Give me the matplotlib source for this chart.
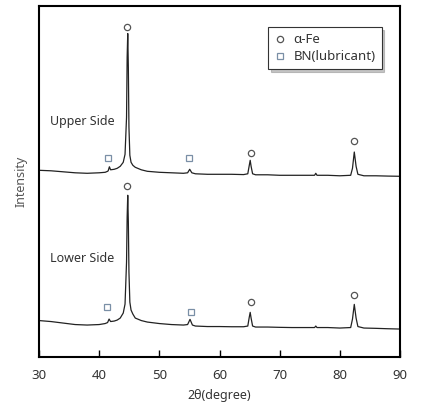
import matplotlib
matplotlib.use("Agg")
import matplotlib.pyplot as plt

plt.rcParams['font.family'] = ['Noto Sans', 'DejaVu Sans']

# 2theta positions (degree) and intensities (arb. units)
upper_tt = [30, 32, 34, 36, 38, 40, 41.0, 41.4, 41.5, 41.7, 41.9, 42.5, 43.0, 43.5, 44.0,
            44.3, 44.55, 44.65, 44.75, 44.85, 44.95, 45.1, 45.3, 45.6, 46, 47, 48, 50, 52,
            54, 54.7, 55.05, 55.4, 56, 58, 60, 62, 64, 64.7, 64.95, 65.1, 65.25, 65.5, 66,
            68, 70, 72, 74, 75.8, 76.0, 76.2, 78, 80, 81.8, 82.1, 82.4, 82.7, 83.0, 84, 86,
            88, 90]
upper_int = [187, 186.5, 185.5, 184.5, 184, 184.5, 185, 186, 186.5, 190.5, 187.5, 188, 189,
             191, 195, 203, 240, 300, 324, 290, 230, 202, 195, 192, 190, 187.5, 186, 185,
             184.5, 184, 184.5, 188, 184.5, 183.5, 183, 183, 183, 182.7, 183.5, 192, 197, 191,
             183.5, 182.5, 182.5, 182, 182, 182, 182, 184, 182, 182, 181.5, 182, 189, 205.3,
             191, 183, 181.5, 181.5, 181.2, 181]

lower_tt = [30, 32, 34, 36, 38, 40, 41.0, 41.4, 41.65, 41.9, 42.5, 43.0, 43.5, 44.0, 44.3,
            44.55, 44.65, 44.75, 44.85, 44.95, 45.1, 45.3, 45.6, 46, 47, 48, 50, 52, 54,
            54.7, 55.1, 55.5, 56, 58, 60, 62, 64, 64.7, 64.95, 65.1, 65.25, 65.5, 66, 68,
            70, 72, 74, 75.8, 76.0, 76.2, 78, 80, 81.8, 82.1, 82.4, 82.7, 83.0, 84, 86, 88, 90]
lower_int = [36.5, 35.5, 34, 32.5, 32, 32.5, 33.5, 34.5, 38, 35.5, 36, 37, 39, 44, 53,
             95, 140, 162, 135, 85, 55, 47, 43, 39, 36.5, 35, 33.5, 32.5, 32,
             32.5, 37.7, 32, 31, 30.5, 30.5, 30.3, 30.3, 31, 40, 44.7, 39, 31, 30, 30,
             29.7, 29.5, 29.5, 29.5, 31, 29.5, 29.5, 29, 29.5, 38, 52.7, 39, 30.5, 29, 28.7, 28.3, 28]

# phase markers
fe_tt = [44.7, 65.2, 82.3, 44.7, 65.2, 82.3]
fe_int = [331, 204.7, 216.3, 171, 55.3, 62]
bn_tt = [41.4, 55.0, 41.25, 55.3]
bn_int = [199.5, 199, 50.3, 45.3]

fig = plt.figure(figsize=(4.22, 4.12), dpi=100)
ax = fig.add_axes([0.0924, 0.1335, 0.8555, 0.853])

ax.plot(upper_tt, upper_int, color='#222222', lw=0.9)
ax.plot(lower_tt, lower_int, color='#222222', lw=0.9)

ax.plot(fe_tt, fe_int, 'o', ls='none', mfc='white', mec='#555555', ms=4.5, mew=0.9,
        label='\u03b1-Fe')
ax.plot(bn_tt, bn_int, 's', ls='none', mfc='white', mec='#7a8fa6', ms=5, mew=0.9,
        label='BN(lubricant)')

ax.text(31.8, 236, 'Upper Side', fontsize=9, color='#333333', va='center', ha='left')
ax.text(31.8, 99, 'Lower Side', fontsize=9, color='#333333', va='center', ha='left')

ax.set_xlim(30, 90)
ax.set_ylim(0, 352)
ax.set_xticks([30, 40, 50, 60, 70, 80, 90])
ax.set_yticks([])
ax.tick_params(axis='x', direction='in', length=5, width=1, labelsize=9.5,
               labelcolor='#333333', pad=9)
for s in ax.spines.values():
    s.set_linewidth(1.5)
ax.set_xlabel('2\u03b8(degree)', fontsize=9, color='#333333', labelpad=5)
ax.set_ylabel('Intensity', fontsize=9, color='#555555', labelpad=8)

leg = ax.legend(loc='upper right', bbox_to_anchor=(0.949, 0.938), borderaxespad=0,
                fontsize=9.5, frameon=True, fancybox=False,
                shadow={'ox': 2, 'oy': -2, 'color': '0.55', 'alpha': 0.5},
                handletextpad=0.5, handlelength=1.0, borderpad=0.45, labelspacing=0.3)
leg.get_frame().set_edgecolor('#333333')
leg.get_frame().set_linewidth(0.8)
for t in leg.get_texts():
    t.set_color('#333333')

fig.savefig('out.png', dpi=100)
